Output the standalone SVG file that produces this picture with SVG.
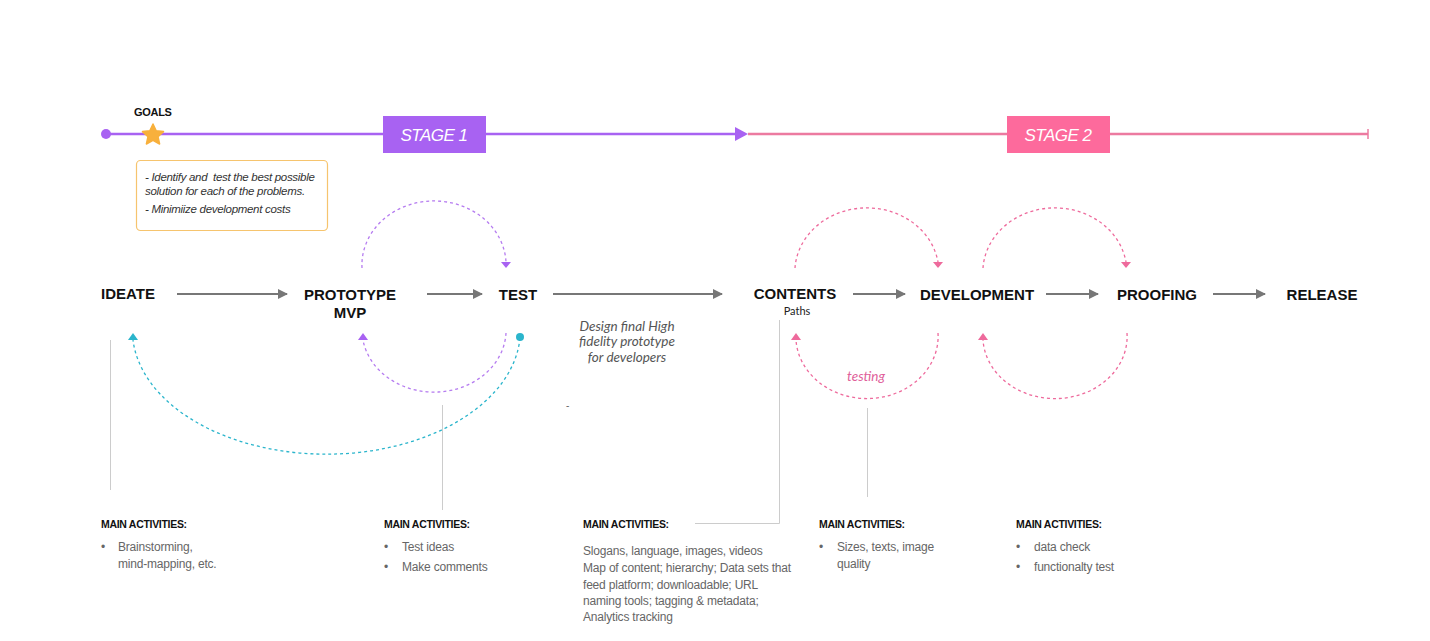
<svg xmlns="http://www.w3.org/2000/svg" width="1430" height="641" viewBox="0 0 1430 641">
<defs>
<style>
.node{font-family:"Liberation Sans",Arial,sans-serif;font-weight:bold;font-size:15px;fill:#111;text-anchor:middle}
.head{font-family:"Liberation Sans",Arial,sans-serif;font-weight:bold;font-size:10.5px;fill:#111;letter-spacing:-0.3px}
.body{font-family:"Liberation Sans",Arial,sans-serif;font-size:12px;fill:#666;letter-spacing:-0.2px}
.goal{font-family:"Liberation Sans",Arial,sans-serif;font-style:italic;font-size:11.5px;fill:#333;letter-spacing:-0.3px;white-space:pre}
.stage{font-family:"Liberation Sans",Arial,sans-serif;font-style:italic;font-size:17px;fill:#fff;text-anchor:middle;letter-spacing:-0.5px}
.note{font-family:Lato,"Liberation Sans",sans-serif;font-style:italic;font-size:13.5px;fill:#555;text-anchor:middle}
.flow{stroke:#777;stroke-width:2;fill:none;marker-end:url(#ag)}
.vline{stroke:#ccc;stroke-width:1;fill:none}
.dp{stroke:#b57bf0;stroke-width:1.3;stroke-dasharray:3 3;fill:none}
.dk{stroke:#ee6a9c;stroke-width:1.3;stroke-dasharray:3 3;fill:none}
.dc{stroke:#2bb5cc;stroke-width:1.3;stroke-dasharray:3 3;fill:none}
</style>
<marker id="ag" viewBox="0 0 10 10" refX="9" refY="5" markerWidth="5" markerHeight="5" orient="auto" markerUnits="strokeWidth"><path d="M0,0 L10,5 L0,10 z" fill="#777"/></marker>
</defs>
<rect width="1430" height="641" fill="#fff"/>

<g id="timeline">
<line x1="106" y1="134" x2="740" y2="134" stroke="#a862f2" stroke-width="2.5"/>
<circle cx="106" cy="134" r="5" fill="#a862f2"/>
<path d="M735,127 L748,134 L735,141 z" fill="#a862f2"/>
<line x1="748" y1="134" x2="1368" y2="134" stroke="#ec7aa0" stroke-width="2.5"/>
<line x1="1368" y1="129" x2="1368" y2="139" stroke="#ec7aa0" stroke-width="1.5"/>
<path d="M153,124 L156.2,130.8 L163.5,131.6 L158,136.7 L159.6,144 L153,140.3 L146.4,144 L148,136.7 L142.5,131.6 L149.8,130.8 z" fill="#f8b03c" stroke="#f8b03c" stroke-width="1.5" stroke-linejoin="round"/>
<text x="134" y="116" class="head" style="font-size:11px">GOALS</text>
</g>

<g id="stage1">
<rect x="383" y="116" width="103" height="37" fill="#a862f2"/>
<text x="434" y="141" class="stage">STAGE 1</text>
</g>
<g id="stage2">
<rect x="1007" y="116" width="103" height="37" fill="#fd6a9c"/>
<text x="1058" y="141" class="stage">STAGE 2</text>
</g>

<g id="goals-box">
<rect x="136.5" y="160.5" width="191" height="70" rx="4" fill="#fff" stroke="#f6c46e" stroke-width="1.2"/>
<text x="145" y="181" class="goal">- Identify and  test the best possible</text>
<text x="145" y="195" class="goal">solution for each of the problems.</text>
<text x="145" y="213" class="goal">- Minimiize development costs</text>
</g>

<g id="connectors">
<line x1="177" y1="294" x2="287" y2="294" class="flow"/>
<line x1="427" y1="294" x2="482" y2="294" class="flow"/>
<line x1="553" y1="294" x2="722" y2="294" class="flow"/>
<line x1="853" y1="294" x2="905" y2="294" class="flow"/>
<line x1="1046" y1="294" x2="1098" y2="294" class="flow"/>
<line x1="1213" y1="294" x2="1265" y2="294" class="flow"/>

<path d="M362,268 A72,64 0 0 1 506,262" class="dp"/>
<path d="M501,262 L511,262 L506,268 z" fill="#a862f2"/>
<path d="M506,333 A72,62 0 0 1 363,340" class="dp"/>
<path d="M358,340 L368,340 L363,333 z" fill="#a862f2"/>

<path d="M520,338 A194,124 0 0 1 133,340" class="dc"/>
<circle cx="520" cy="337" r="4" fill="#2bb5cc"/>
<path d="M128,340 L138,340 L133,333 z" fill="#2bb5cc"/>

<path d="M795,268 A72,64 0 0 1 938,262" class="dk"/>
<path d="M933,262 L943,262 L938,268 z" fill="#ee6a9c"/>
<path d="M983,268 A72,64 0 0 1 1126,262" class="dk"/>
<path d="M1121,262 L1131,262 L1126,268 z" fill="#ee6a9c"/>
<path d="M938,333 A71,62 0 0 1 796,340" class="dk"/>
<path d="M791,340 L801,340 L796,333 z" fill="#ee6a9c"/>
<path d="M1127,333 A72,62 0 0 1 983,340" class="dk"/>
<path d="M978,340 L988,340 L983,333 z" fill="#ee6a9c"/>

<line x1="110.5" y1="340" x2="110.5" y2="490" class="vline"/>
<line x1="442.5" y1="405" x2="442.5" y2="510" class="vline"/>
<polyline points="779.5,320 779.5,523.5 695,523.5" class="vline"/>
<line x1="867.5" y1="408" x2="867.5" y2="497" class="vline"/>
</g>

<g id="ideate"><text x="128" y="299" class="node">IDEATE</text></g>
<g id="prototype"><text x="350" y="300" class="node">PROTOTYPE</text><text x="350" y="318" class="node">MVP</text></g>
<g id="test"><text x="518" y="300" class="node">TEST</text></g>
<g id="contents"><text x="795" y="299" class="node">CONTENTS</text><text x="797" y="315" font-family="Lato,'Liberation Sans',sans-serif" font-size="11" fill="#222" text-anchor="middle">Paths</text></g>
<g id="development"><text x="977" y="300" class="node">DEVELOPMENT</text></g>
<g id="proofing"><text x="1157" y="300" class="node">PROOFING</text></g>
<g id="release"><text x="1322" y="300" class="node">RELEASE</text></g>

<g id="notes">
<text x="627" y="331" class="note">Design final High</text>
<text x="627" y="346" class="note">fidelity prototype</text>
<text x="627" y="362" class="note">for developers</text>
<text x="866" y="381" class="note" style="fill:#e0609a">testing</text>
<text x="566" y="409" font-family="'Liberation Sans',sans-serif" font-size="10" fill="#666">-</text>
</g>

<g id="act-ideate">
<text x="101" y="528" class="head">MAIN ACTIVITIES:</text>
<text x="101" y="551" class="body">•</text><text x="118" y="551" class="body">Brainstorming,</text>
<text x="118" y="568" class="body">mind-mapping, etc.</text>
</g>
<g id="act-test">
<text x="384" y="528" class="head">MAIN ACTIVITIES:</text>
<text x="384" y="551" class="body">•</text><text x="402" y="551" class="body">Test ideas</text>
<text x="384" y="571" class="body">•</text><text x="402" y="571" class="body">Make comments</text>
</g>
<g id="act-contents">
<text x="583" y="555" class="body" style="font-size:12px">Slogans, language, images, videos</text>
<text x="583" y="528" class="head">MAIN ACTIVITIES:</text>
<text x="583" y="572" class="body" style="font-size:12px">Map of content; hierarchy; Data sets that</text>
<text x="583" y="589" class="body" style="font-size:12px">feed platform; downloadable; URL</text>
<text x="583" y="605" class="body" style="font-size:12px">naming tools; tagging &amp; metadata;</text>
<text x="583" y="621" class="body" style="font-size:12px">Analytics tracking</text>
</g>
<g id="act-development">
<text x="819" y="528" class="head">MAIN ACTIVITIES:</text>
<text x="819" y="551" class="body">•</text><text x="837" y="551" class="body">Sizes, texts, image</text>
<text x="837" y="568" class="body">quality</text>
</g>
<g id="act-proofing">
<text x="1016" y="528" class="head">MAIN ACTIVITIES:</text>
<text x="1016" y="551" class="body">•</text><text x="1034" y="551" class="body">data check</text>
<text x="1016" y="571" class="body">•</text><text x="1034" y="571" class="body">functionalty test</text>
</g>
</svg>
